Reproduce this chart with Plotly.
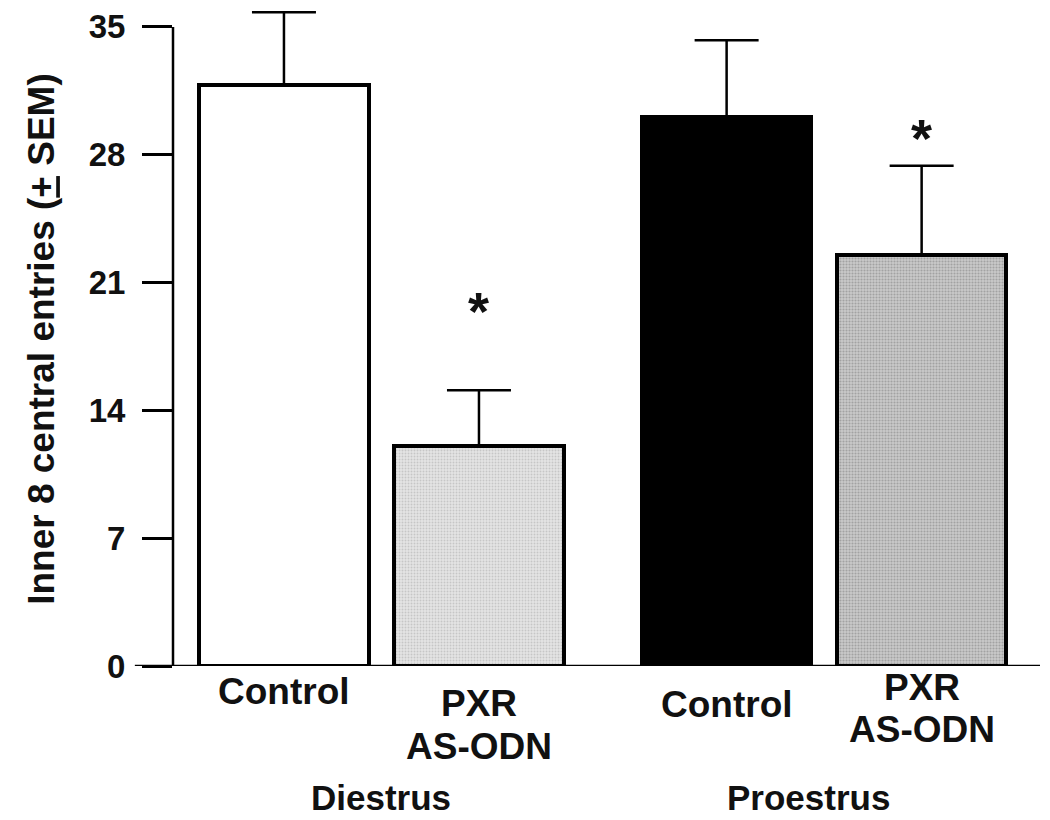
import plotly.graph_objects as go

# ---- data ----
groups = ["Diestrus", "Diestrus", "Proestrus", "Proestrus"]
conditions = ["Control", "PXR\nAS-ODN", "Control", "PXR\nAS-ODN"]
means = [31.8, 12.05, 30.07, 22.5]
sems = [4.0, 3.05, 4.2, 4.9]
significant = [False, True, False, True]
star_levels = [None, 19.7, None, 29.2]
y_ticks = [0, 7, 14, 21, 28, 35]
group_names = ["Diestrus", "Proestrus"]
y_title = "Inner 8 central entries (<u>+</u> SEM)"

# ---- styling / layout ----
FONT = "Liberation Sans, Arial, sans-serif"
group_gap = 2.27
bar_step = 1.0
bar_width = 0.87
fills = [
    dict(color="white", pattern=dict(shape="")),
    dict(color="#e4e4e4", pattern=dict(shape=".", fgcolor="#a8a8a8", bgcolor="#e4e4e4", size=3, solidity=0.35)),
    dict(color="black", pattern=dict(shape="")),
    dict(color="#cacaca", pattern=dict(shape=".", fgcolor="#7a7a7a", bgcolor="#cacaca", size=3, solidity=0.4)),
]
label_drop_px = [25, 38, 39, 21]
line_gap_px = 42
group_drop_px = 131
group_xshift = [0, -16]

positions = []
for g, c in zip(groups, conditions):
    gi = group_names.index(g)
    ci = [cc for gg, cc in zip(groups, conditions) if gg == g].index(c)
    positions.append(gi * group_gap + ci * bar_step)

W, H = 1050, 820
ml, mr, mt, mb = 173, 10, 5, 154
plot_h = H - mt - mb
plot_w = W - ml - mr

fig = go.Figure()
for i in range(len(means)):
    fig.add_trace(go.Bar(
        x=[positions[i]], y=[means[i]], width=bar_width,
        marker=dict(color=fills[i]["color"], pattern=fills[i]["pattern"],
                    line=dict(color="black", width=4)),
        error_y=dict(type="data", symmetric=False, array=[sems[i]], arrayminus=[0],
                     color="black", thickness=2.5, width=32),
        showlegend=False, hoverinfo="skip",
    ))

annotations = []
for i, lab in enumerate(conditions):
    for li, line in enumerate(lab.split("\n")):
        drop = label_drop_px[i] + li * line_gap_px
        annotations.append(dict(
            x=positions[i], xref="x", y=-drop / plot_h, yref="paper",
            text=f"<b>{line}</b>", showarrow=False, xanchor="center", yanchor="middle",
            font=dict(family=FONT, size=37, color="#111111"),
        ))
    if significant[i]:
        annotations.append(dict(
            x=positions[i], xref="x", y=star_levels[i], yref="y",
            text="<b>*</b>", showarrow=False, xanchor="center", yanchor="middle",
            yshift=-5, font=dict(family=FONT, size=54, color="#111111"),
        ))

for gi, gname in enumerate(group_names):
    xs = [p for p, g in zip(positions, groups) if g == gname]
    annotations.append(dict(
        x=sum(xs) / len(xs), xref="x", y=-group_drop_px / plot_h, yref="paper",
        xshift=group_xshift[gi],
        text=f"<b>{gname}</b>", showarrow=False, xanchor="center", yanchor="middle",
        font=dict(family=FONT, size=35, color="#111111"),
    ))

annotations.append(dict(
    x=(42 - ml) / plot_w, xref="paper", y=0.495, yref="paper",
    text=f"<b>{y_title}</b>", textangle=-90, showarrow=False, xanchor="center", yanchor="middle",
    font=dict(family=FONT, size=37, color="#111111"),
))

shapes = [
    dict(type="line", xref="paper", yref="y", x0=-0.044, x1=1.0, y0=0, y1=0,
         line=dict(color="black", width=2.5), layer="above"),
    dict(type="line", xref="paper", yref="y", x0=0, x1=0, y0=0, y1=max(y_ticks),
         line=dict(color="black", width=2.5), layer="above"),
]

fig.update_layout(
    width=W, height=H, autosize=False,
    margin=dict(l=ml, r=mr, t=mt, b=mb),
    paper_bgcolor="white", plot_bgcolor="white",
    font=dict(family=FONT, color="#111111"),
    bargap=0,
    annotations=annotations, shapes=shapes,
    xaxis=dict(range=[-0.569, 3.877], showticklabels=False, ticks="",
               showline=False, showgrid=False, zeroline=False),
    yaxis=dict(range=[0, 36.2], tickvals=y_ticks, ticktext=[f"<b>{t}</b>" for t in y_ticks],
               ticks="outside", ticklen=30, tickwidth=2.5, tickcolor="black",
               tickfont=dict(family=FONT, size=33, color="#111111"),
               ticklabelstandoff=10,
               showline=False, showgrid=False, zeroline=False),
)

fig.write_html("out.html", config={"displayModeBar": False},
               post_script="document.body.style.margin='0';document.body.style.overflow='hidden';")
